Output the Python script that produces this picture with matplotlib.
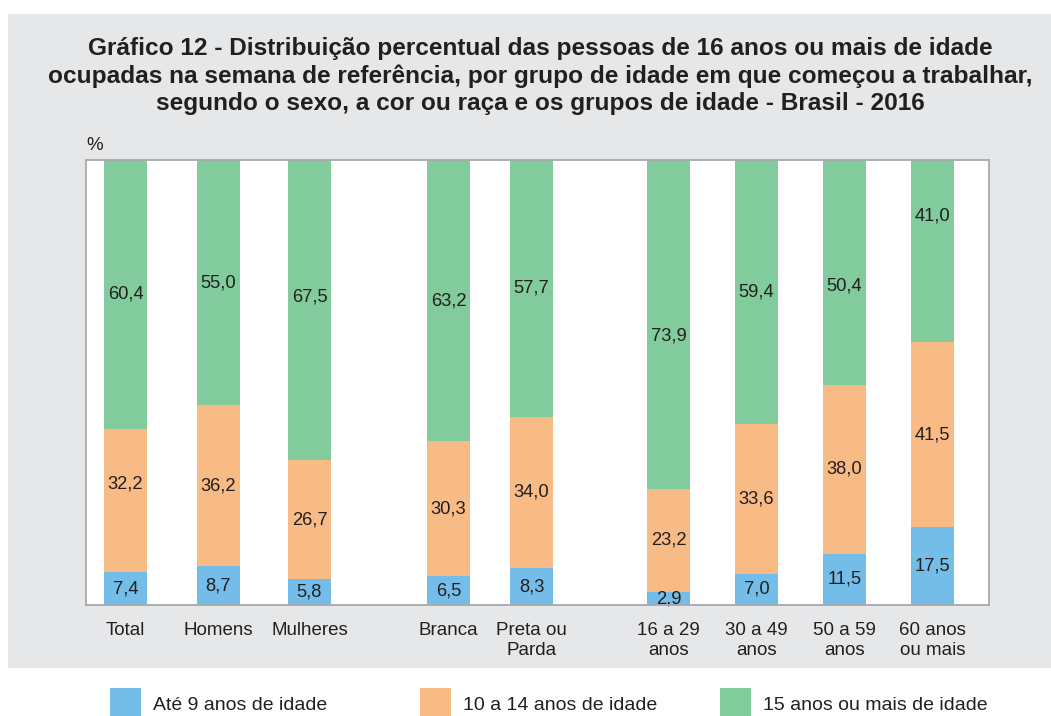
import matplotlib
matplotlib.use("Agg")
import matplotlib.pyplot as plt
from matplotlib.patches import Rectangle
import numpy as np

plt.rcParams['font.family'] = ['Liberation Sans', 'DejaVu Sans']

categories = ["Total", "Homens", "Mulheres", "Branca", "Preta ou\nParda",
              "16 a 29\nanos", "30 a 49\nanos", "50 a 59\nanos", "60 anos\nou mais"]
ate9 = [7.4, 8.7, 5.8, 6.5, 8.3, 2.9, 7.0, 11.5, 17.5]
de10a14 = [32.2, 36.2, 26.7, 30.3, 34.0, 23.2, 33.6, 38.0, 41.5]
mais15 = [60.4, 55.0, 67.5, 63.2, 57.7, 73.9, 59.4, 50.4, 41.0]
series_names = ["Até 9 anos de idade", "10 a 14 anos de idade", "15 anos ou mais de idade"]
title = ("Gráfico 12 - Distribuição percentual das pessoas de 16 anos ou mais de idade\n"
         "ocupadas na semana de referência, por grupo de idade em que começou a trabalhar,\n"
         "segundo o sexo, a cor ou raça e os grupos de idade - Brasil - 2016")

colors = ["#74bde8", "#f9bb86", "#82cb9c"]
bg = "#e6e7e9"
frame = "#a7a9ac"
txt = "#231f20"

# small vertical nudges of value labels (series index, bar index) -> offset in % units
label_nudge = {(1, 0): 3.8, (2, 2): 2.9, (2, 5): -2.7, (2, 7): -3.1, (2, 8): 7.9}

W, H = 1051, 716
fig = plt.figure(figsize=(W / 100, H / 100), dpi=100, facecolor="white")

def fx(px):
    return px / W

def fy(py):
    return 1 - py / H

# gray panel
fig.patches.append(Rectangle((fx(8), fy(668)), fx(1051) - fx(8), fy(14) - fy(668),
                             transform=fig.transFigure, facecolor=bg, edgecolor="none",
                             zorder=-10))

ax = fig.add_axes([fx(86), fy(605), fx(989) - fx(86), fy(160) - fy(605)])
ax.set_facecolor("white")

# layout: bar centers in pixel-based x units
pos = np.array([125.5, 218.5, 309.5, 448.5, 531.5, 668.5, 756.5, 844.5, 932.5])
width = 43

data = [ate9, de10a14, mais15]
bottom = np.zeros(len(categories))
for si, (vals, c) in enumerate(zip(data, colors)):
    vals = np.array(vals)
    ax.bar(pos, vals, width=width, bottom=bottom, color=c, edgecolor="none", zorder=2)
    for bi, (x, b, v) in enumerate(zip(pos, bottom, vals)):
        y = b + v / 2 + label_nudge.get((si, bi), 0)
        ax.text(x, y, f"{v:.1f}".replace(".", ","), ha="center", va="center",
                fontsize=13.2, color=txt, zorder=3)
    bottom += vals

ax.set_xlim(86, 989)
ax.set_ylim(0, 100)
ax.set_yticks([])
ax.set_xticks(pos)
ax.set_xticklabels(categories, fontsize=13.5, color=txt, linespacing=1.25)
ax.tick_params(axis="x", length=0, pad=12)
for s in ax.spines.values():
    s.set_color(frame)
    s.set_linewidth(1.3)
    s.set_zorder(4)

fig.text(fx(86), fy(146), "%", fontsize=13.5, color=txt, ha="left", va="center")

fig.text(fx(540), fy(76), title, ha="center", va="center", fontsize=17.6, fontweight="bold",
         color=txt, linespacing=1.25)

# legend
leg_x = [110, 420, 720]
for lx, c, name in zip(leg_x, colors, series_names):
    fig.patches.append(Rectangle((fx(lx), fy(716)), fx(31), fy(688) - fy(716),
                                 transform=fig.transFigure, facecolor=c, edgecolor="none"))
    fig.text(fx(lx + 43), fy(705), name, ha="left", va="center", fontsize=14, color=txt)

fig.savefig("out.png", dpi=100, facecolor="white")
